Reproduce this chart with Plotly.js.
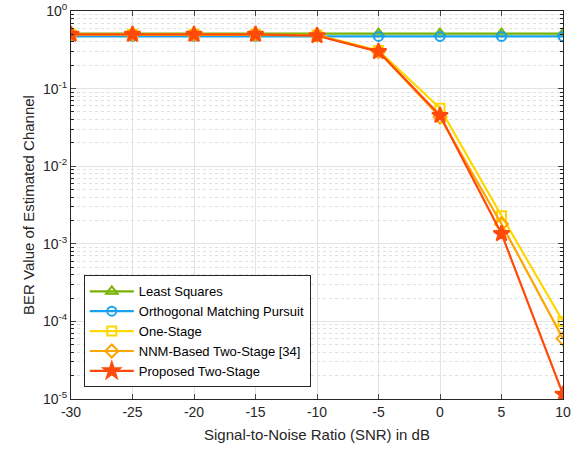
<!DOCTYPE html>
<html><head><meta charset="utf-8">
<script src="https://cdn.plot.ly/plotly-3.0.1.min.js"></script>
<style>html,body{margin:0;padding:0;background:#fff}#c{width:576px;height:451px}</style>
</head><body><div id="c"></div>
<script>
const snr = [-30, -25, -20, -15, -10, -5, 0, 5, 10];
const leastSquares = [0.51, 0.51, 0.51, 0.51, 0.51, 0.51, 0.51, 0.51, 0.51];
const omp = [0.47, 0.47, 0.47, 0.47, 0.47, 0.47, 0.47, 0.47, 0.47];
const oneStage = [0.5, 0.5, 0.5, 0.5, 0.49, 0.31, 0.056, 0.0023, 0.0001];
const nnmTwoStage = [0.5, 0.5, 0.5, 0.5, 0.49, 0.3, 0.043, 0.0018, 0.00006];
const proposed = [0.5, 0.5, 0.5, 0.5, 0.48, 0.3, 0.045, 0.00135, 0.0000115];
const names = ['Least Squares', 'Orthogonal Matching Pursuit', 'One-Stage', 'NNM-Based Two-Stage [34]', 'Proposed Two-Stage'];
const yTickVals = [1e-5, 1e-4, 1e-3, 1e-2, 1e-1, 1];
const yTickText = ['10<sup>-5</sup>', '10<sup>-4</sup>', '10<sup>-3</sup>', '10<sup>-2</sup>', '10<sup>-1</sup>', '10<sup>0</sup>'];
const xTickVals = [-30, -25, -20, -15, -10, -5, 0, 5, 10];
const xTickText = ['-30', '-25', '-20', '-15', '-10', '-5', '0', '5', '10'];

const series = [leastSquares, omp, oneStage, nnmTwoStage, proposed];
const colors = ['#77B300', '#1AA3EC', '#FFD700', '#FFA500', '#FF4A0A'];
const symbols = ['triangle-up-open', 'circle-open', 'square-open', 'diamond-open', 'star'];
const sizes = [10, 9, 9, 10, 12];
const traces = series.map((y, i) => ({
  x: snr, y: y, name: names[i], type: 'scatter', mode: 'lines+markers',
  line: {color: colors[i], width: 2.2},
  marker: {symbol: symbols[i], size: sizes[i], color: colors[i], line: {color: colors[i], width: 2}}
}));

const fam = 'Liberation Sans, Arial, sans-serif';
const axFont = {family: fam, size: 14, color: '#262626'};
const layout = {
  width: 576, height: 451,
  margin: {l: 71, r: 13, t: 11, b: 52},
  paper_bgcolor: '#fff', plot_bgcolor: '#fff',
  showlegend: true,
  legend: {x: 0.026, y: 0.03, xanchor: 'left', yanchor: 'bottom',
    bgcolor: '#fff', bordercolor: '#262626', borderwidth: 1,
    font: {family: fam, size: 13, color: '#000'},
    tracegroupgap: 0, itemwidth: 44},
  xaxis: {
    range: [-30, 10], tickvals: xTickVals, ticktext: xTickText, ticks: 'inside', ticklen: 5,
    showline: true, mirror: 'ticks', linecolor: '#262626', linewidth: 1,
    showgrid: true, gridcolor: '#e3e3e3', zeroline: false,
    tickfont: axFont,
    title: {text: 'Signal-to-Noise Ratio (SNR) in dB', font: {family: fam, size: 15, color: '#262626'}, standoff: 10}
  },
  yaxis: {
    type: 'log', range: [-5, 0], tickvals: yTickVals, ticktext: yTickText,
    ticks: 'inside', ticklen: 5,
    showline: true, mirror: 'ticks', linecolor: '#262626', linewidth: 1,
    showgrid: true, gridcolor: '#e3e3e3', zeroline: false,
    minor: {showgrid: true, gridcolor: '#e0e0e0', griddash: 'dot', ticks: 'inside', ticklen: 3, tickcolor: '#262626', dtick: 'D1'},
    tickfont: axFont,
    title: {text: 'BER Value of Estimated Channel', font: {family: fam, size: 15, color: '#262626'}, standoff: 4}
  }
};
Plotly.newPlot('c', traces, layout, {displayModeBar: false, staticPlot: true});
</script></body></html>
